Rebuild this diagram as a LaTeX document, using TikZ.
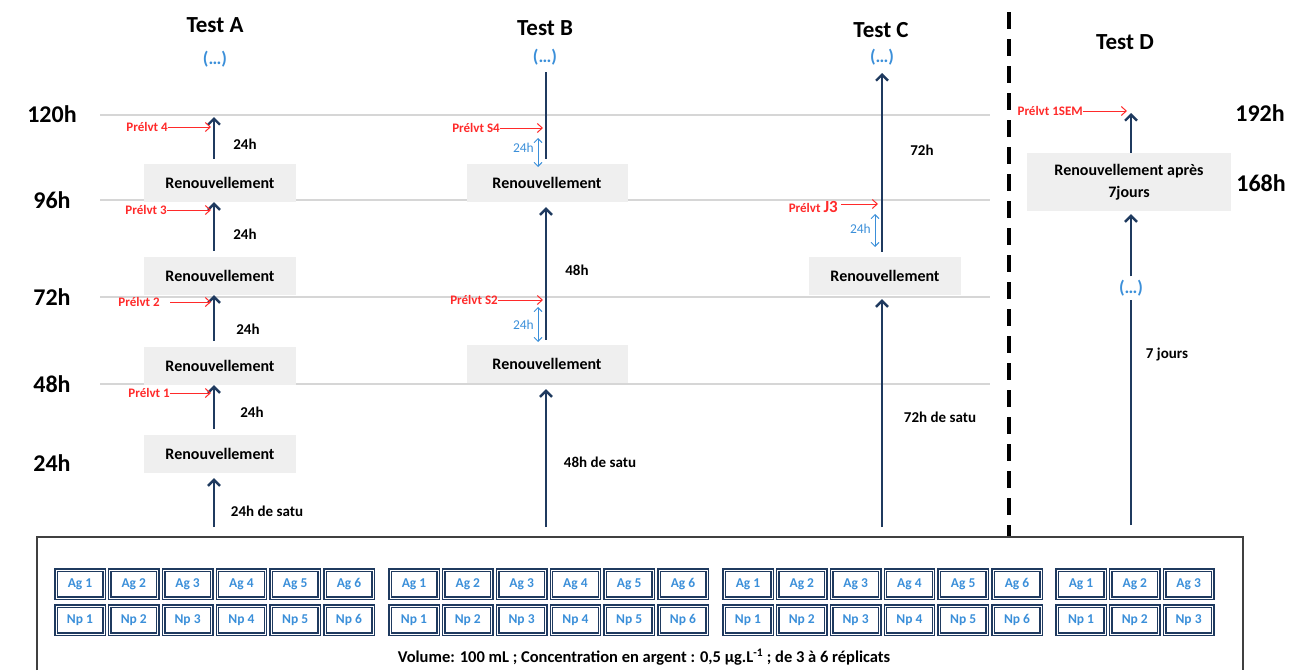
\documentclass[tikz,border=0pt]{standalone}
\usepackage{fontspec}
\setmainfont{Carlito}
\usetikzlibrary{arrows.meta,positioning}

\definecolor{navy}{HTML}{1F3A5F}
\definecolor{boxgray}{HTML}{EFEFEF}
\definecolor{gridgray}{HTML}{D6D6D6}
\definecolor{prelred}{HTML}{FF2A2A}
\definecolor{skyblue}{HTML}{3B8FD9}
\definecolor{panelgray}{HTML}{404040}

\newcommand{\fs}[1]{\bfseries\fontsize{#1}{#1}\selectfont}

\begin{document}
\begin{tikzpicture}[x=1pt,y=-1pt,
  every node/.style={font=\fs{15}},
  renouv/.style={fill=boxgray,minimum width=152pt,minimum height=38pt,inner sep=2pt,
                 align=center,font=\bfseries\fontsize{16}{22}\selectfont},
  arr/.style={-{Straight Barb[length=6pt,width=12pt]},navy,line width=2.4pt},
  seg/.style={navy,line width=2.4pt},
  prel/.style={-{Straight Barb[length=5pt,width=9pt]},prelred,line width=1pt},
  durarr/.style={{Straight Barb[length=4pt,width=8pt]}-{Straight Barb[length=4pt,width=8pt]},
                 skyblue,line width=0.9pt},
  hline/.style={gridgray,line width=1.5pt},
  divider/.style={black,line width=3.5pt,dash pattern=on 17pt off 10pt},
  hour/.style={font=\fs{24}},
  testname/.style={font=\fs{23}},
  cont/.style={text=skyblue,font=\fs{18}},
  prellab/.style={text=prelred,font=\fs{13},inner sep=0pt},
  durlab/.style={text=skyblue,font=\mdseries\fontsize{13.5}{13.5}\selectfont,inner sep=0pt},
  cell/.style={draw=navy,double=white,double distance=0.8pt,line width=1.5pt,
               minimum width=48pt,minimum height=28pt,inner sep=0pt,
               text=skyblue,font=\fs{13.5}}
]
\useasboundingbox (0,0) rectangle (1300,670);

% time scale
\foreach \y in {115,200,297,384}
  \draw[hline] (100,\y) -- (990,\y);
\node[hour] (h120) at (52,114) {120h};
\node[hour] (h96)  at (52,200) {96h};
\node[hour] (h72)  at (52,297) {72h};
\node[hour] (h48)  at (52,384) {48h};
\node[hour] (h24)  at (52,463) {24h};
\node[hour] (h192) at (1260,113) {192h};
\node[hour] (h168) at (1261,183) {168h};

% Test A
\node[testname] (tA) at (215,25) {Test A};
\node[cont] (cA) at (215,59) {(…)};
\node[renouv] (ra1) at (220,454) {Renouvellement};
\node[renouv] (ra2) at (220,366) {Renouvellement};
\node[renouv] (ra3) at (220,276) {Renouvellement};
\node[renouv] (ra4) at (220,183) {Renouvellement};
\coordinate (a0) at (214,527);
\coordinate (aTop) at (214,117);
\draw[arr,shorten >=5pt] (a0) -- (ra1.south -| a0);
\draw[arr,shorten <=6pt] (ra1.north -| a0) -- (ra2.south -| a0);
\draw[arr,shorten <=6pt] (ra2.north -| a0) -- (ra3.south -| a0);
\draw[arr,shorten <=6pt] (ra3.north -| a0) -- (ra4.south -| a0);
\draw[arr,shorten <=5pt] (ra4.north -| a0) -- (aTop);
\node (lA5) at (267,511) {24h de satu};
\node (lA4) at (252,412) {24h};
\node (lA3) at (248,329) {24h};
\node (lA2) at (245,234) {24h};
\node (lA1) at (245,144) {24h};
\node[prellab,anchor=east] (pA1) at (170,393) {Prélvt 1};
\node[prellab,anchor=east] (pA2) at (160,302) {Prélvt 2};
\node[prellab,anchor=east] (pA3) at (167,210) {Prélvt 3};
\node[prellab,anchor=east] (pA4) at (168,127) {Prélvt 4};
\coordinate (qA1) at (211,393);
\coordinate (qA2) at (211,302);
\coordinate (qA3) at (211,210);
\coordinate (qA4) at (211,127);
\draw[prel] (pA1) -- (qA1);
\draw[prel,shorten <=10pt] (pA2) -- (qA2);
\draw[prel] (pA3) -- (qA3);
\draw[prel] (pA4) -- (qA4);

% Test B
\node[testname] (tB) at (545,28) {Test B};
\node[cont] (cB) at (545,57) {(…)};
\node[renouv,minimum width=161pt] (rb1) at (547,364) {Renouvellement};
\node[renouv,minimum width=161pt] (rb2) at (547,183) {Renouvellement};
\coordinate (b0) at (546,527);
\coordinate (bTop) at (546,72);
\draw[arr,shorten >=6pt] (b0) -- (rb1.south -| b0);
\draw[arr,shorten <=5pt,shorten >=5pt] (rb1.north -| b0) -- (rb2.south -| b0);
\draw[seg,shorten <=5pt] (rb2.north -| b0) -- (bTop);
\node (lB1) at (600,462) {48h de satu};
\node (lB2) at (577,270) {48h};
\node[prellab,anchor=east] (pB2) at (498,300) {Prélvt S2};
\node[prellab,anchor=east] (pB4) at (500,128) {Prélvt S4};
\coordinate (qB2) at (543,300);
\coordinate (qB4) at (543,128);
\draw[prel] (pB2) -- (qB2);
\draw[prel] (pB4) -- (qB4);
\coordinate (sB2) at (538,307);
\coordinate (eB2) at (538,342);
\coordinate (sB4) at (538,138);
\coordinate (eB4) at (538,167);
\draw[durarr] (sB2) -- (eB2);
\draw[durarr] (sB4) -- (eB4);
\node[durlab,anchor=east] (dB2) at (534,325) {24h};
\node[durlab,anchor=east] (dB4) at (534,148) {24h};

% Test C
\node[testname] (tC) at (881,30) {Test C};
\node[cont] (cC) at (882,57) {(…)};
\node[renouv] (rc1) at (885,276) {Renouvellement};
\coordinate (c0) at (882,527);
\coordinate (cTop) at (882,73);
\draw[arr,shorten >=4pt] (c0) -- (rc1.south -| c0);
\draw[arr,shorten <=5pt] (rc1.north -| c0) -- (cTop);
\node (lC1) at (940,417) {72h de satu};
\node (lC2) at (922,150) {72h};
\node[prellab,anchor=east] (pC3) at (838,207) {Prélvt {\fontsize{17}{17}\selectfont J3}};
\coordinate (qC3) at (878,204);
\draw[prel,shorten <=3pt] (pC3.east |- qC3) -- (qC3);
\coordinate (sC3) at (875,214);
\coordinate (eC3) at (875,247);
\draw[durarr] (sC3) -- (eC3);
\node[durlab,anchor=east] (dC3) at (871,229) {24h};

% separator
\draw[divider] (1009,12) -- (1009,537);

% Test D
\node[testname] (tD) at (1125,42) {Test D};
\node[renouv,minimum width=204pt,minimum height=58pt] (rd1) at (1129,182)
  {Renouvellement après\\7jours};
\node[cont] (cD) at (1131,288) {(…)};
\coordinate (d0) at (1131,525);
\coordinate (dTop) at (1131,113);
\draw[seg] (d0) -- (cD);
\draw[arr,shorten >=3pt] (cD) -- (rd1.south -| cD);
\draw[arr] (rd1.north -| cD) -- (dTop);
\node (lD1) at (1167,354) {7 jours};
\node[prellab,anchor=east] (pD1) at (1083,111) {Prélvt 1SEM};
\coordinate (qD1) at (1127,111);
\draw[prel] (pD1) -- (qD1);

% replicates
\draw[panelgray,line width=1.2pt] (37,670) |- (1243,537) -- (1243,670);
\foreach \gx/\n in {80/6,414/6,748/6,1081/3}
  \foreach \i in {1,...,\n} {
    \node[cell] (ag-\gx-\i) at ({\gx+53.8*(\i-1)},584) {Ag \i};
    \node[cell] (np-\gx-\i) at ({\gx+53.8*(\i-1)},620) {Np \i};
  }
\node[font=\fs{16.5}] (vol) at (644,657)
  {Volume: 100 mL ; Concentration en argent : 0,5 µg.L\textsuperscript{-1} ; de 3 à 6 réplicats};
\end{tikzpicture}
\end{document}
